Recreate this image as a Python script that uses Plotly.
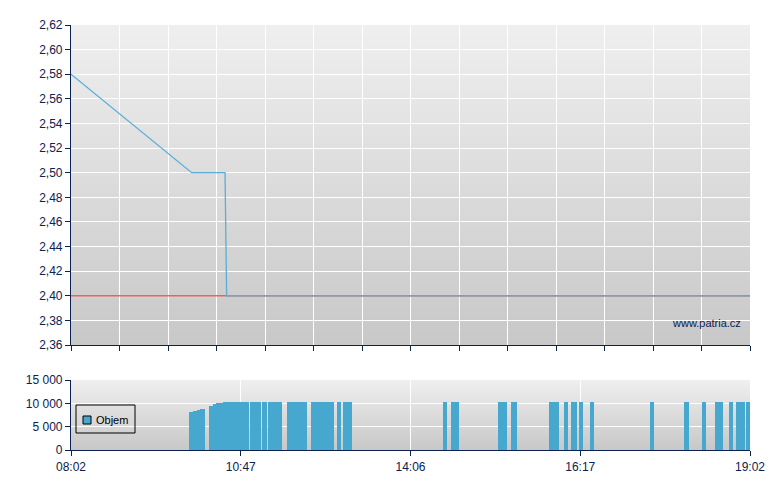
import base64, struct, zlib
import plotly.graph_objects as go

# ---------------- data ----------------
# x axis = trading-session position (0 = 08:02, 660 = 19:02; labels are non-linear in time)
tick_pos = [0, 165, 330, 495, 660]
tick_labels = ["08:02", "10:47", "14:06", "16:17", "19:02"]

price_x = [0, 117.3, 149.7, 151.3, 660]
price_y = [2.58, 2.50, 2.50, 2.40, 2.40]

ref_x = [0, 660]
ref_y = [2.40, 2.40]

vol_start = [114.7, 118.6, 122.5, 125.4, 134.1, 138.0, 140.9, 143.9, 147.7, 174.0, 185.7,
             191.5, 210.3, 233.3, 258.3, 264.4, 361.6, 369.4, 415.1, 427.8, 464.7, 479.2,
             486.0, 493.8, 504.5, 562.8, 595.8, 613.3, 626.0, 639.6, 646.4, 656.2]
vol_end = [118.6, 122.5, 125.4, 130.3, 138.0, 140.9, 143.9, 147.7, 173.0, 184.7, 190.5,
           204.8, 229.4, 255.6, 262.4, 273.1, 365.5, 377.2, 423.9, 433.6, 474.4, 483.1,
           491.9, 497.7, 508.4, 566.7, 600.7, 617.2, 633.8, 643.5, 655.2, 660.0]
vol_val = [8150, 8350, 8650, 8800, 9500, 9800, 10000, 10150, 10300, 10300, 10300,
           10300, 10300, 10300, 10300, 10300, 10300, 10300, 10300, 10300, 10300, 10300,
           10300, 10300, 10300, 10300, 10300, 10300, 10300, 10300, 10300, 10300]

legend_label = "Objem"

# ---------------- gradient background image ----------------
def gradient_png(top, bottom, h=256):
    raw = b""
    for i in range(h):
        t = i / (h - 1)
        c = [round(top[k] + (bottom[k] - top[k]) * t) for k in range(3)]
        raw += b"\x00" + bytes(c)
    def chunk(tag, data):
        c = struct.pack(">I", len(data)) + tag + data
        return c + struct.pack(">I", zlib.crc32(tag + data) & 0xffffffff)
    png = b"\x89PNG\r\n\x1a\n"
    png += chunk(b"IHDR", struct.pack(">IIBBBBB", 1, h, 8, 2, 0, 0, 0))
    png += chunk(b"IDAT", zlib.compress(raw))
    png += chunk(b"IEND", b"")
    return "data:image/png;base64," + base64.b64encode(png).decode()

grad = gradient_png((239, 239, 239), (200, 200, 200))

AX = "#0b2150"
BAR = "#46a7cf"
FONT = "Liberation Sans, Arial, sans-serif"

fig = go.Figure()

fig.add_trace(go.Scatter(x=ref_x, y=ref_y, mode="lines", line=dict(color="#f06060", width=1.3),
                         showlegend=False, hoverinfo="skip", xaxis="x", yaxis="y"))
fig.add_trace(go.Scatter(x=price_x, y=price_y, mode="lines", line=dict(color="#5aaed6", width=1.3),
                         showlegend=False, xaxis="x", yaxis="y"))

centers = [(s + e) / 2 for s, e in zip(vol_start, vol_end)]
widths = [(e - s) for s, e in zip(vol_start, vol_end)]
fig.add_trace(go.Bar(x=centers, y=vol_val, width=widths, name=legend_label,
                     marker=dict(color=BAR, line=dict(width=0)),
                     xaxis="x2", yaxis="y2", showlegend=False))

main_bottom = (450 - 345) / 425
vol_top = (450 - 380) / 425

common = dict(showgrid=True, gridcolor="white", gridwidth=1.2, ticks="outside", ticklen=5,
              tickcolor=AX, showline=True, linecolor=AX, linewidth=1.2, zeroline=False,
              automargin=False, tickfont=dict(size=12, color=AX))

# page body has an 8px margin, so the figure is shifted up/left by 8px
fig.update_layout(
    width=772, height=482,
    margin=dict(l=63, r=30, t=17, b=40, autoexpand=False),
    paper_bgcolor="white",
    plot_bgcolor="rgba(0,0,0,0)",
    separators=", ",
    font=dict(family=FONT, size=12, color=AX),
    bargap=0,
    showlegend=False,
    xaxis=dict(domain=[0, 1], range=[0, 660], anchor="y", tickmode="linear", tick0=0,
               dtick=660 / 14, showticklabels=False, **common),
    yaxis=dict(domain=[main_bottom, 1], range=[2.36, 2.62], anchor="x", tickmode="linear",
               tick0=2.36, dtick=0.02, tickformat=".2f", **common),
    xaxis2=dict(domain=[0, 1], range=[0, 660], anchor="y2", tickmode="array", tickvals=tick_pos,
                ticktext=tick_labels, **common),
    yaxis2=dict(domain=[0, vol_top], range=[0, 15000], anchor="x2", tickmode="array",
                tickvals=[0, 5000, 10000, 15000], tickformat=",d", **common),
    images=[
        dict(source=grad, xref="x domain", yref="y domain", x=0, y=1, sizex=1, sizey=1,
             sizing="stretch", layer="below", xanchor="left", yanchor="top"),
        dict(source=grad, xref="x2 domain", yref="y2 domain", x=0, y=1, sizex=1, sizey=1,
             sizing="stretch", layer="below", xanchor="left", yanchor="top"),
    ],
    shapes=[
        # legend box
        dict(type="rect", xref="paper", yref="paper", x0=5 / 679, x1=64 / 679,
             y0=(450 - 433) / 425, y1=(450 - 405) / 425, line=dict(color="black", width=1),
             fillcolor="rgba(0,0,0,0)", layer="above"),
        # legend symbol
        dict(type="rect", xref="paper", yref="paper", x0=12 / 679, x1=20 / 679,
             y0=(450 - 424) / 425, y1=(450 - 416) / 425, line=dict(color="black", width=1),
             fillcolor=BAR, layer="above"),
    ],
    annotations=[
        dict(text="www.patria.cz", xref="x domain", yref="y domain", x=0.99, y=0.045,
             xanchor="right", yanchor="bottom", showarrow=False, font=dict(size=11, color=AX)),
        dict(text=legend_label, xref="paper", yref="paper", x=23 / 679, y=(450 - 419.5) / 425,
             xanchor="left", yanchor="middle", showarrow=False, font=dict(size=11, color="black")),
    ],
)

fig.write_html("out.html")
